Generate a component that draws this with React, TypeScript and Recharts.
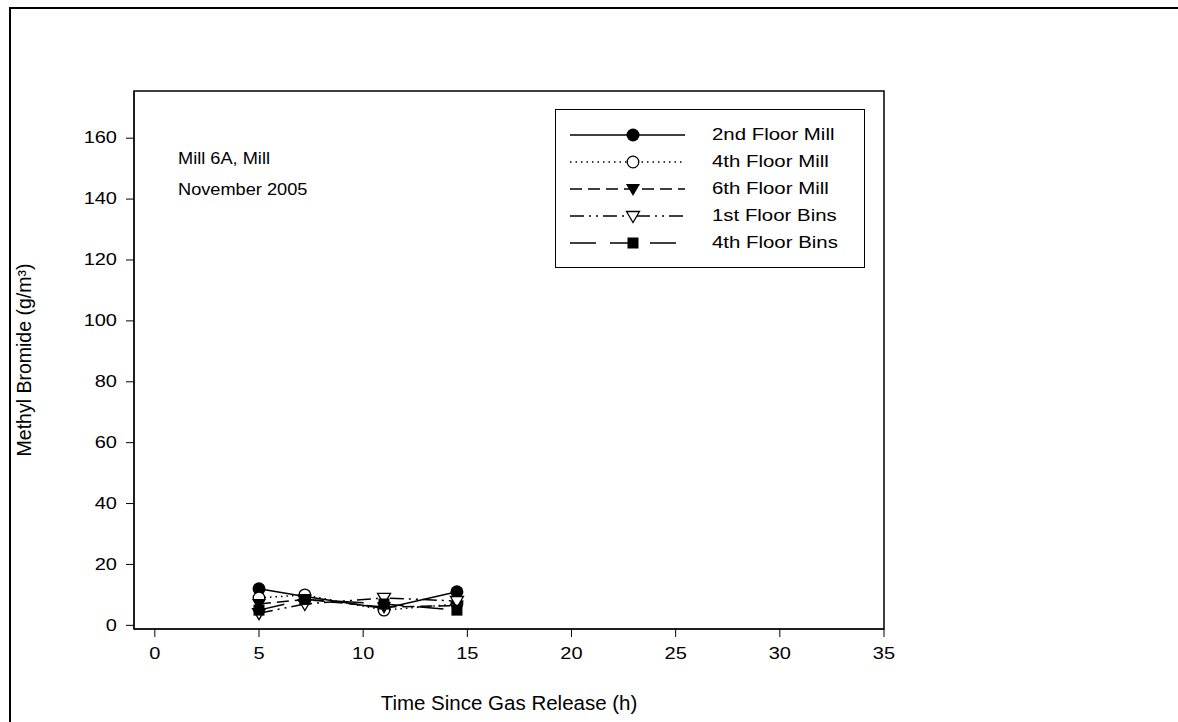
import React from 'react'
import { LineChart, Line, XAxis, YAxis, ReferenceArea, Legend } from 'recharts'

// hours since gas release
const hours = [5, 7.2, 11, 14.5]

const floor2Mill = [12, 9.5, 5.5, 11]
const floor4Mill = [9, 10, 5, 7]
const floor6Mill = [7, 8.5, 6, 6.5]
const floor1Bins = [4, 7, 9, 8]
const floor4Bins = [5, 8.5, 7, 5]

const xTicks = [0, 5, 10, 15, 20, 25, 30, 35]
const yTicks = [0, 20, 40, 60, 80, 100, 120, 140, 160]

const data = hours.map((h, i) => ({
  h,
  f2m: floor2Mill[i],
  f4m: floor4Mill[i],
  f6m: floor6Mill[i],
  f1b: floor1Bins[i],
  f4b: floor4Bins[i],
}))

const FONT = '"Liberation Sans", Arial, sans-serif'

type Kind = 'circle' | 'ocircle' | 'tri' | 'otri' | 'square'

function Marker({ kind, cx, cy }: { kind: Kind; cx: number; cy: number }) {
  if (cx == null || cy == null) return null
  switch (kind) {
    case 'circle':
      return <circle cx={cx} cy={cy} r={6.5} fill="#000" />
    case 'ocircle':
      return <circle cx={cx} cy={cy} r={5.8} fill="#fff" stroke="#000" strokeWidth={1.3} />
    case 'tri':
      return <polygon points={`${cx - 7},${cy - 5} ${cx + 7},${cy - 5} ${cx},${cy + 7}`} fill="#000" />
    case 'otri':
      return (
        <polygon
          points={`${cx - 6.5},${cy - 4.5} ${cx + 6.5},${cy - 4.5} ${cx},${cy + 6.5}`}
          fill="#fff"
          stroke="#000"
          strokeWidth={1.3}
        />
      )
    default:
      return <rect x={cx - 5.5} y={cy - 5.5} width={11} height={11} fill="#000" />
  }
}

const series: { key: string; name: string; dash?: string; kind: Kind }[] = [
  { key: 'f2m', name: '2nd Floor Mill', kind: 'circle' },
  { key: 'f4m', name: '4th Floor Mill', dash: '1.5 4', kind: 'ocircle' },
  { key: 'f6m', name: '6th Floor Mill', dash: '12 6', kind: 'tri' },
  { key: 'f1b', name: '1st Floor Bins', dash: '14 5 2 5 2 5', kind: 'otri' },
  { key: 'f4b', name: '4th Floor Bins', dash: '26 14', kind: 'square' },
]

// the source picture is stretched sideways a bit, so text is widened
function XTick({ x, y, payload }: any) {
  return (
    <text
      transform={`translate(${x},${y + 9}) scale(1.25,1)`}
      textAnchor="middle"
      dominantBaseline="hanging"
      fontSize={16}
      fill="#000"
    >
      {payload.value}
    </text>
  )
}

function YTick({ x, y, payload }: any) {
  return (
    <text
      transform={`translate(${x - 7},${y}) scale(1.25,1)`}
      textAnchor="end"
      dominantBaseline="central"
      fontSize={16}
      fill="#000"
    >
      {payload.value}
    </text>
  )
}

function LegendBox() {
  return (
    <div
      style={{
        width: 310,
        height: 159,
        border: '1.5px solid #000',
        background: '#fff',
        fontFamily: FONT,
        fontSize: 17,
        boxSizing: 'border-box',
        paddingTop: 11,
      }}
    >
      {series.map((s) => (
        <div key={s.key} style={{ display: 'flex', alignItems: 'center', height: 27 }}>
          <svg width={140} height={20} style={{ marginLeft: 14 }}>
            <line x1={0} y1={10} x2={115} y2={10} stroke="#000" strokeWidth={1.5} strokeDasharray={s.dash} />
            <Marker kind={s.kind} cx={63} cy={10} />
          </svg>
          <span style={{ marginLeft: 2, display: 'inline-block', transform: 'scaleX(1.2)', transformOrigin: 'left center' }}>
            {s.name}
          </span>
        </div>
      ))}
    </div>
  )
}

export default function App() {
  return (
    <div style={{ position: 'fixed', left: 0, top: 0, width: 1178, height: 722, overflow: 'hidden', background: '#fff' }}>
      <div
        style={{
          position: 'absolute',
          left: 9,
          top: 7,
          width: 1300,
          height: 900,
          borderLeft: '2.5px solid #000',
          borderTop: '2px solid #000',
        }}
      />
      <LineChart
        width={1178}
        height={722}
        data={data}
        margin={{ top: 91, right: 294, bottom: 0, left: 0 }}
        style={{ position: 'absolute', left: 0, top: 0, fontFamily: FONT }}
      >
        <XAxis
          dataKey="h"
          type="number"
          domain={[-1, 35]}
          ticks={xTicks}
          allowDataOverflow
          height={93}
          stroke="#000"
          tickLine={{ stroke: '#000' }}
          tickSize={8}
          tick={<XTick />}
          label={{ value: 'Time Since Gas Release (h)', position: 'insideBottom', offset: 12, fill: '#000', fontSize: 20.5 }}
        />
        <YAxis
          type="number"
          domain={[-1.2, 175.5]}
          ticks={yTicks}
          allowDataOverflow
          width={134}
          stroke="#000"
          tickSize={8}
          tick={<YTick />}
          label={{
            value: 'Methyl Bromide (g/m³)',
            angle: -90,
            position: 'insideLeft',
            offset: 24,
            style: { textAnchor: 'middle' },
            fill: '#000',
            fontSize: 19.5,
          }}
        />
        <ReferenceArea x1={-1} x2={35} y1={-1.2} y2={175.5} fill="none" stroke="#000" strokeWidth={1.5} ifOverflow="visible" />
        {series.map((s) => (
          <Line
            key={s.key}
            dataKey={s.key}
            name={s.name}
            stroke="#000"
            strokeWidth={1.5}
            strokeDasharray={s.dash}
            isAnimationActive={false}
            dot={(p: any) => <Marker key={`${s.key}-${p.index}`} kind={s.kind} cx={p.cx} cy={p.cy} />}
            activeDot={false}
          />
        ))}
        <Legend
          layout="horizontal"
          verticalAlign="middle"
          align="center"
          content={() => <LegendBox />}
          wrapperStyle={{ left: 555, top: 109, width: 310, height: 159 }}
        />
      </LineChart>
      <div
        style={{
          position: 'absolute',
          left: 178,
          top: 143,
          fontFamily: FONT,
          fontSize: 17,
          lineHeight: '31px',
          transform: 'scaleX(1.07)',
          transformOrigin: 'left top',
        }}
      >
        <div>Mill 6A, Mill</div>
        <div>November 2005</div>
      </div>
    </div>
  )
}
